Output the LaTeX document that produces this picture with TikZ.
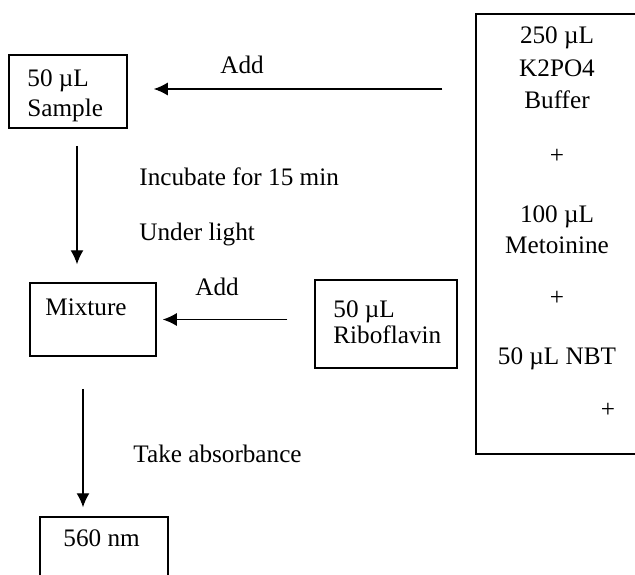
\documentclass[tikz,border=0pt]{standalone}
\usepackage{fontspec}
\setmainfont{Liberation Serif}
\usetikzlibrary{arrows.meta}
\begin{document}
\begin{tikzpicture}[x=0.5pt,y=-0.5pt,
  box/.style={draw,line width=0.75pt,rectangle,inner sep=0pt,minimum width=#1},
  txt/.style={inner sep=0pt,anchor=base west,font=\fontsize{12.6}{15.5}\selectfont},
  ctxt/.style={inner sep=0pt,anchor=base,font=\fontsize{12.6}{15.5}\selectfont},
  arr/.style={line width=0.65pt,-{Latex[length=7pt,width=6.5pt]}}]
\clip (0,0) rectangle (635,574);
\fill[white] (0,0) rectangle (635,574);
% boxes
\node[box=59pt,minimum height=36.5pt] (sample) at (68,91.5) {};
\node[box=63pt,minimum height=36.5pt] (mix) at (93,319.5) {};
\node[box=71pt,minimum height=44pt] (ribo) at (386,324) {};
\node[box=112pt,minimum height=220pt] (big) at (588,234) {};
\node[box=64pt,minimum height=36.5pt] (nm) at (104,553.5) {};
% texts
\node[txt] (t1) at (27,86) {50 µL};
\node[txt] (t2) at (27,116) {Sample};
\node[txt] (add1) at (220,73) {Add};
\node[txt] (inc) at (139,185) {Incubate for 15 min};
\node[txt] (ul) at (139,240) {Under light};
\node[txt] (add2) at (195,295) {Add};
\node[txt] (mixt) at (45,315) {Mixture};
\node[txt] (r1) at (333,317) {50 µL};
\node[txt] (r2) at (333,343) {Riboflavin};
\node[txt] (take) at (133,462) {Take absorbance};
\node[txt] (nmt) at (63,546) {560 nm};
\node[ctxt] (b1) at (557,43) {250 µL};
\node[ctxt] (b2) at (557,76) {K2PO4};
\node[ctxt] (b3) at (557,108) {Buffer};
\node[ctxt] (p1) at (557,163) {+};
\node[ctxt] (b4) at (557,222) {100 µL};
\node[ctxt] (b5) at (557,253) {Metoinine};
\node[ctxt] (p2) at (557,305) {+};
\node[ctxt] (b6) at (557,364) {50 µL NBT};
\node[ctxt] (p3) at (608,417) {+};
% arrows
\coordinate (a1) at ([yshift=1.25pt]sample.east);
\draw[arr,shorten <=16.5pt,shorten >=13pt] (a1 -| big.west) -- (a1);
\draw[arr,shorten <=13.5pt,shorten >=3pt] (mix.east -| ribo.west) -- (mix.east);
\coordinate (d1) at (77,0);
\draw[arr,shorten <=8.5pt,shorten >=9pt] (sample.south -| d1) -- (mix.north -| d1);
\coordinate (d2) at (83,0);
\draw[arr,shorten <=16pt,shorten >=4.5pt] (mix.south -| d2) -- (nm.north -| d2);
\end{tikzpicture}
\end{document}
